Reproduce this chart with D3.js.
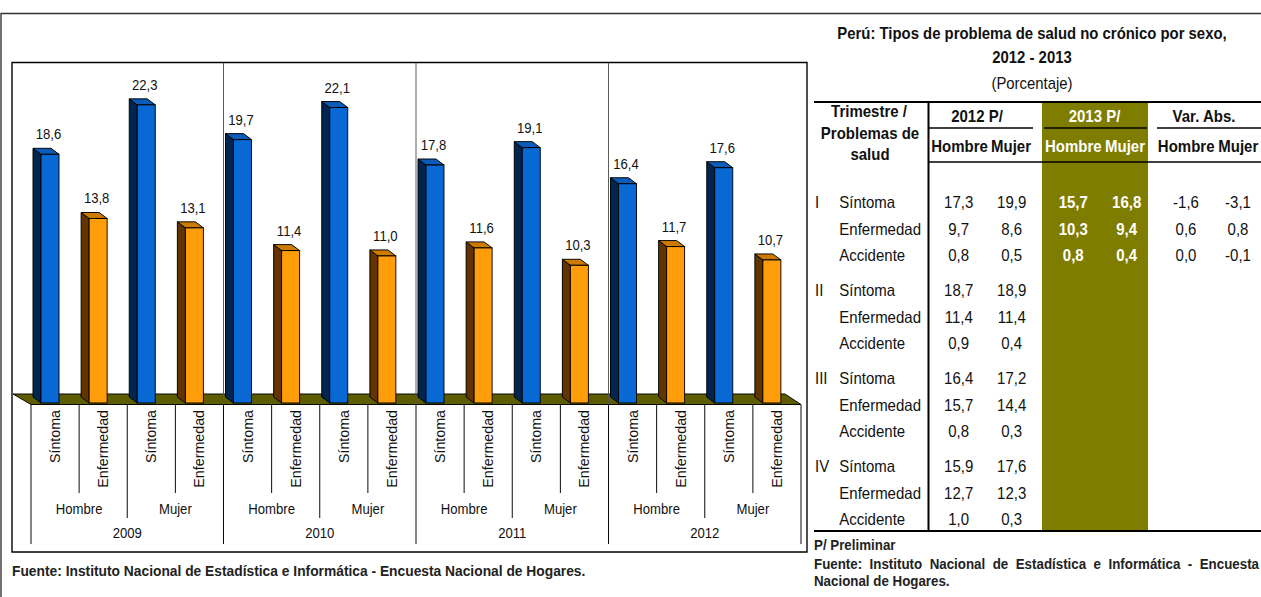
<!DOCTYPE html>
<html>
<head>
<meta charset="utf-8">
<script src="https://cdn.jsdelivr.net/npm/d3@7"></script>
<style>
  body { margin: 0; background: #ffffff; }
  svg { display: block; }
  text { font-family: "Liberation Sans", Arial, sans-serif; }
</style>
</head>
<body>
<svg id="chart" width="1261" height="597"></svg>
<script>
// ---------------- DATA ----------------
const years = ["2009", "2010", "2011", "2012"];
const sexes = ["Hombre", "Mujer"];
const types = ["Síntoma", "Enfermedad"];
const hombreSintoma    = [18.6, 19.7, 17.8, 16.4];
const hombreEnfermedad = [13.8, 11.4, 11.6, 11.7];
const mujerSintoma     = [22.3, 22.1, 19.1, 17.6];
const mujerEnfermedad  = [13.1, 11.0, 10.3, 10.7];

const tableTitle1 = "Perú: Tipos de problema de salud no crónico por sexo,";
const tableTitle2 = "2012 - 2013";
const tableUnit   = "(Porcentaje)";
const trimestres = ["I", "II", "III", "IV"];
const problemas  = ["Síntoma", "Enfermedad", "Accidente"];
const t2012Hombre = [17.3, 9.7, 0.8, 18.7, 11.4, 0.9, 16.4, 15.7, 0.8, 15.9, 12.7, 1.0];
const t2012Mujer  = [19.9, 8.6, 0.5, 18.9, 11.4, 0.4, 17.2, 14.4, 0.3, 17.6, 12.3, 0.3];
const t2013Hombre = [15.7, 10.3, 0.8];
const t2013Mujer  = [16.8, 9.4, 0.4];
const varHombre   = [-1.6, 0.6, 0.0];
const varMujer    = [-3.1, 0.8, -0.1];

const fuente = "Fuente: Instituto Nacional de Estadística e Informática - Encuesta Nacional de Hogares.";
const fuenteLine1 = "Fuente: Instituto Nacional de Estadística e Informática - Encuesta";
const fuenteLine2 = "Nacional de Hogares.";
const nota = "P/ Preliminar";

// ---------------- SETUP ----------------
const SX = 0.92;               // horizontal compression of the original picture
const X = v => v / SX;
const CF = 0.92;               // extra condensation of the chart's font
const CFS = 15.5;              // chart font size
const loc = d3.formatLocale({decimal: ",", thousands: ".", grouping: [3], currency: ["", ""], minus: "-"});
const fmt = loc.format(".1f");

const svg = d3.select("#chart");
const root = svg.append("g").attr("transform", `scale(${SX},1)`);

// condensed chart text helper
function ctext(parent, x, yy, str, opts = {}) {
  const rot = opts.rotate ? ` rotate(${opts.rotate})` : "";
  const g = parent.append("g").attr("transform", `translate(${x},${yy})${rot} scale(${CF},1)`);
  const t = g.append("text")
    .attr("text-anchor", opts.anchor || "middle")
    .attr("font-size", opts.size || CFS)
    .attr("fill", opts.fill || "#111")
    .text(str);
  if (opts.dy) t.attr("dy", opts.dy);
  if (opts.bold) t.attr("font-weight", "bold");
  return t;
}

// outer frame
root.append("path")
  .attr("d", `M${X(1)},597 V13.5 H${X(1261)}`)
  .attr("fill", "none").attr("stroke", "#333").attr("stroke-width", 1.5);

// ---------------- CHART ----------------
const bars = [];
years.forEach((yr, yi) => {
  bars.push({year: yi, sex: 0, type: 0, v: hombreSintoma[yi]});
  bars.push({year: yi, sex: 0, type: 1, v: hombreEnfermedad[yi]});
  bars.push({year: yi, sex: 1, type: 0, v: mujerSintoma[yi]});
  bars.push({year: yi, sex: 1, type: 1, v: mujerEnfermedad[yi]});
});

const xBand = d3.scaleBand().domain(d3.range(bars.length)).range([X(31), X(801)]).padding(0);
const bw = xBand.bandwidth();
const y = d3.scaleLinear().domain([0, 25]).range([403, 403 - 25 * 13.37]);

const chart = root.append("g");

// plot box
chart.append("rect")
  .attr("x", X(12)).attr("y", 62.5)
  .attr("width", X(807) - X(12)).attr("height", 552 - 62.5)
  .attr("fill", "none").attr("stroke", "#000").attr("stroke-width", 1.5);

// floor
const fl = [[X(13), 394], [X(785), 394], [X(801), 404.5], [X(31), 404.5]];
chart.append("polygon")
  .attr("points", fl.map(p => p.join(",")).join(" "))
  .attr("fill", "#5e5c00").attr("stroke", "#000").attr("stroke-width", 1);

// year gridlines
d3.range(1, years.length).forEach(k => {
  const gx = xBand.range()[0] + k * 4 * bw;
  chart.append("line")
    .attr("x1", gx).attr("x2", gx).attr("y1", 63).attr("y2", 404.5)
    .attr("stroke", "#555").attr("stroke-width", 1);
});

// bars
const dx = X(8), dy = 6, fw = X(18), off = X(10);
const colors = [
  {front: "#0868d4", side: "#00254f", top: "#0b5cb8"},
  {front: "#ff9d0a", side: "#633300", top: "#cc7a00"}
];
const bg = chart.selectAll("g.bar").data(bars).join("g").attr("class", "bar");
bg.each(function(d, i) {
  const g = d3.select(this);
  const x0 = xBand(i) + off, x1 = x0 + fw;
  const t = y(d.v), b = y(0);
  const c = colors[d.type];
  g.append("polygon")
    .attr("points", [[x0, t], [x0 - dx, t - dy], [x0 - dx, b - dy], [x0, b]].map(p => p.join(",")).join(" "))
    .attr("fill", c.side).attr("stroke", "#000").attr("stroke-width", 1).attr("stroke-linejoin", "round");
  g.append("polygon")
    .attr("points", [[x0, t], [x1, t], [x1 - dx, t - dy], [x0 - dx, t - dy]].map(p => p.join(",")).join(" "))
    .attr("fill", c.top).attr("stroke", "#000").attr("stroke-width", 1).attr("stroke-linejoin", "round");
  g.append("rect")
    .attr("x", x0).attr("y", t).attr("width", fw).attr("height", b - t)
    .attr("fill", c.front).attr("stroke", "#000").attr("stroke-width", 1);
  ctext(g, x0 + fw / 2 - X(1.5), t - 15, fmt(d.v));
});

// hierarchical axis ticks
d3.range(bars.length + 1).forEach(j => {
  const tx = xBand.range()[0] + j * bw;
  const y2 = j % 4 === 0 ? 544 : (j % 2 === 0 ? 518 : 493);
  chart.append("line")
    .attr("x1", tx).attr("x2", tx).attr("y1", 404.5).attr("y2", y2)
    .attr("stroke", "#000").attr("stroke-width", 1);
});

// category labels (rotated)
bars.forEach((d, i) => {
  const cx = xBand(i) + bw / 2;
  ctext(chart, cx, 410, types[d.type], {rotate: -90, anchor: "end", dy: "0.35em"});
});
// sex and year labels
years.forEach((yr, yi) => {
  sexes.forEach((s, si) => {
    const cx = xBand.range()[0] + (yi * 4 + si * 2 + 1) * bw;
    ctext(chart, cx, 514, s);
  });
  const ycx = xBand.range()[0] + (yi * 4 + 2) * bw;
  ctext(chart, ycx, 538, yr);
});

// left source
root.append("text")
  .attr("x", X(12)).attr("y", 576)
  .attr("font-size", 15).attr("font-weight", "bold").attr("fill", "#222")
  .text(fuente);

// ---------------- TABLE ----------------
const tb = root.append("g");
const FS = 16.3;

tb.append("text").attr("x", X(1032)).attr("y", 39).attr("text-anchor", "middle")
  .attr("font-size", 16.2).attr("font-weight", "bold").attr("fill", "#111").text(tableTitle1);
tb.append("text").attr("x", X(1032)).attr("y", 63).attr("text-anchor", "middle")
  .attr("font-size", 16.2).attr("font-weight", "bold").attr("fill", "#111").text(tableTitle2);
tb.append("text").attr("x", X(1032)).attr("y", 89).attr("text-anchor", "middle")
  .attr("font-size", 16.2).attr("fill", "#111").text(tableUnit);

// highlighted column
tb.append("rect")
  .attr("x", X(1042)).attr("y", 102).attr("width", X(1148) - X(1042)).attr("height", 531 - 102)
  .attr("fill", "#7f7d00");

const hline = (x1, x2, yy, w) => tb.append("line")
  .attr("x1", X(x1)).attr("x2", X(x2)).attr("y1", yy).attr("y2", yy)
  .attr("stroke", "#000").attr("stroke-width", w);
hline(814, 1261, 102, 2);
hline(929, 1033, 128, 1.5);
hline(1044, 1147, 128, 1.5);
hline(1157, 1261, 128, 1.5);
hline(929, 1261, 162, 1.5);
hline(814, 1261, 531, 2);
tb.append("line").attr("x1", X(928.5)).attr("x2", X(928.5)).attr("y1", 101).attr("y2", 532)
  .attr("stroke", "#000").attr("stroke-width", 2.2);

const htext = (t, x, yy, color) => tb.append("text")
  .attr("x", X(x)).attr("y", yy).attr("text-anchor", "middle")
  .attr("font-size", FS).attr("font-weight", "bold").attr("fill", color || "#111").text(t);
htext("Trimestre /", 869, 117);
htext("Problemas de", 870, 139);
htext("salud", 870, 160);
htext("2012 P/", 977, 122);
htext("2013 P/", 1094.5, 122, "#fff");
htext("Var. Abs.", 1204, 122);
htext("Hombre", 959.5, 152); htext("Mujer", 1011, 152);
htext("Hombre", 1073.3, 152, "#fff"); htext("Mujer", 1125, 152, "#fff");
htext("Hombre", 1186.2, 152); htext("Mujer", 1238.3, 152);

const rowY = (g, r) => 208 + g * 88 + r * 26.7;
const cell = (t, x, yy, bold, color) => tb.append("text")
  .attr("x", X(x)).attr("y", yy).attr("text-anchor", "middle")
  .attr("font-size", FS).attr("font-weight", bold ? "bold" : "normal")
  .attr("fill", color || "#111").text(t);

trimestres.forEach((tr, g) => {
  tb.append("text").attr("x", X(815)).attr("y", rowY(g, 0))
    .attr("font-size", FS).attr("fill", "#111").text(tr);
  problemas.forEach((p, r) => {
    const k = g * 3 + r, yy = rowY(g, r);
    tb.append("text").attr("x", X(839.3)).attr("y", yy)
      .attr("font-size", FS).attr("fill", "#111").text(p);
    cell(fmt(t2012Hombre[k]), 958.7, yy);
    cell(fmt(t2012Mujer[k]), 1011.7, yy);
    if (g === 0) {
      cell(fmt(t2013Hombre[r]), 1073.3, yy, true, "#fff");
      cell(fmt(t2013Mujer[r]), 1126.7, yy, true, "#fff");
      cell(fmt(varHombre[r]), 1186, yy);
      cell(fmt(varMujer[r]), 1238, yy);
    }
  });
});

// footnotes
tb.append("text").attr("x", X(814)).attr("y", 550)
  .attr("font-size", 14.5).attr("font-weight", "bold").attr("fill", "#222").text(nota);
const f1 = tb.append("text").attr("x", X(814)).attr("y", 569)
  .attr("font-size", 14.5).attr("font-weight", "bold").attr("fill", "#222").text(fuenteLine1);
const nat = f1.node().getComputedTextLength();
const spaces = (fuenteLine1.match(/ /g) || []).length;
f1.attr("word-spacing", Math.max(0, (X(1259) - X(814) - nat) / spaces));
tb.append("text").attr("x", X(814)).attr("y", 586)
  .attr("font-size", 14.5).attr("font-weight", "bold").attr("fill", "#222").text(fuenteLine2);
</script>
</body>
</html>
